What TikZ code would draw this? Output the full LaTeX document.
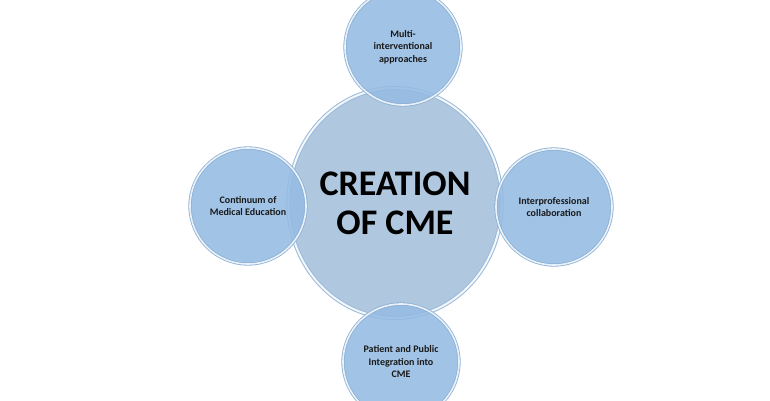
\documentclass[tikz,border=0pt]{standalone}
\usepackage{fontspec}
\setmainfont{Carlito}
\usetikzlibrary{shapes.geometric}
\definecolor{bigblue}{HTML}{AFC8DF}
\definecolor{smallblue}{HTML}{95BBE3}
\definecolor{rimblue}{HTML}{6F9DCB}
\tikzset{
  big/.style={ellipse, minimum width=212pt, minimum height=230pt, inner sep=0pt,
    fill=bigblue, draw=rimblue!70, line width=1pt,
    double=white!85!bigblue, double distance=2pt, font=\bfseries\fontsize{36}{39}\selectfont, align=center, text=black},
  small/.style={circle, minimum size=116pt, inner sep=0pt,
    fill=smallblue, fill opacity=0.88, text opacity=1, draw=rimblue!80, line width=0.8pt,
    double=white!80!smallblue, double distance=1.6pt,
    font=\bfseries\fontsize{10}{12.5}\selectfont, align=center, text=black!90}
}
\begin{document}
\begin{tikzpicture}[x=1pt,y=1pt]
\useasboundingbox[fill=white] (0,0) rectangle (770,400);
\node[big] (c) at (395,197) {CREATION\\OF CME};
\node[small] (t) at (403,353) {Multi-\\interventional\\approaches};
\node[small] (l) at (248,194) {Continuum of\\Medical Education};
\node[small] (r) at (554,193) {Interprofessional\\collaboration};
\node[small] (b) at (401,38) {Patient and Public\\Integration into\\CME};
\end{tikzpicture}
\end{document}
